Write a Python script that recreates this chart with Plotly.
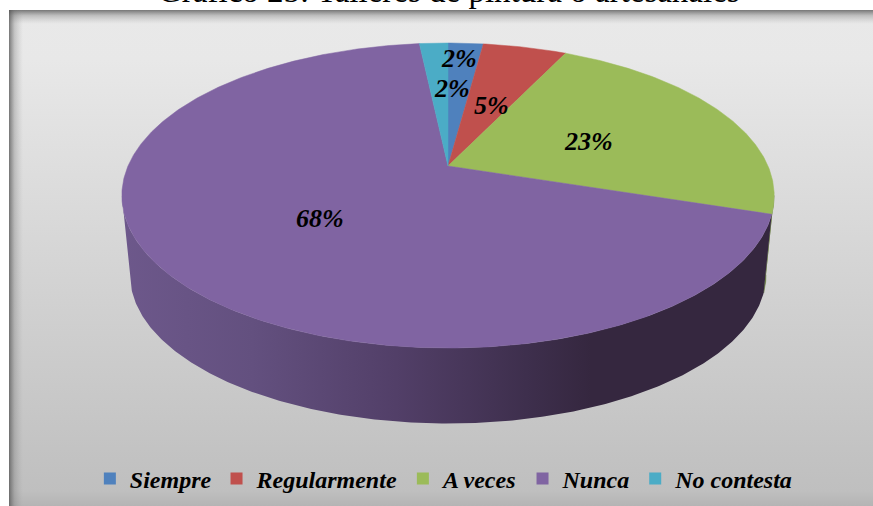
import numpy as np
import plotly.graph_objects as go

# --- data ---
categories = ["Siempre", "Regularmente", "A veces", "Nunca", "No contesta"]
shares = [2.1, 5.0, 22.9, 68.3, 1.7]
title_text = "Gráfico 25: Talleres de pintura o artesanales"

# --- style ---
colors = ["#4F81BD", "#C0504D", "#9BBB59", "#8064A2", "#4BACC6"]
W, H = 873, 506
SERIF = "Liberation Serif"
CX, CY = 448, 166      # apex of the pie on screen
RX, RY = 320, 146.8    # projected radii
PERSP = 0.1935         # perspective strength
DEPTH_DY, DEPTH_SCALE = 80, 0.975
# label centres (placement only, in pixels)
label_pos = [(459, 58), (491, 105), (588, 141), (320, 218), (452, 88)]


def project(phi_deg, scale=1.0, dy=0.0):
    """Tilted-disc projection; phi clockwise from the far point of the disc."""
    phi = np.radians(phi_deg)
    d = 1 + PERSP * np.cos(phi)
    return (CX + scale * RX * np.sin(phi) / d,
            CY + dy + scale * (-RY) * np.cos(phi) / d)


def arc(a, b, **kw):
    n = max(int(abs(b - a) * 2), 2)
    return project(np.linspace(a, b, n), **kw)


cum = np.concatenate([[0], np.cumsum(shares)]) * 360.0 / sum(shares)
FRONT_R, FRONT_L = 101.1, 258.9  # silhouette tangents of the disc

fig = go.Figure()


def poly(xs, ys, **kw):
    fig.add_trace(go.Scatter(x=list(xs), y=list(ys), mode="lines", fill="toself",
                             showlegend=False, hoverinfo="skip", **kw))


# chart-area background and bevel
X0, Y0 = 9, 10
poly([X0, W, W, X0], [Y0, Y0, H, H], line=dict(width=0, color="rgba(0,0,0,0)"),
     fillgradient=dict(type="vertical", start=Y0, stop=H,
                       colorscale=[[0, "#e9e9e9"], [0.1, "#e8e8e8"], [0.97, "#bfbfbf"], [1, "#b4b4b4"]]))
poly([X0, W, W, X0], [Y0, Y0, Y0 + 14, Y0 + 14], line=dict(width=0, color="rgba(0,0,0,0)"),
     fillgradient=dict(type="vertical", start=Y0, stop=Y0 + 14,
                       colorscale=[[0, "rgba(90,90,90,0.80)"], [0.4, "rgba(110,110,110,0.35)"], [1, "rgba(150,150,150,0)"]]))
poly([X0, X0 + 14, X0 + 14, X0], [Y0, Y0, H, H], line=dict(width=0, color="rgba(0,0,0,0)"),
     fillgradient=dict(type="horizontal", start=X0, stop=X0 + 14,
                       colorscale=[[0, "rgba(80,80,80,0.75)"], [0.4, "rgba(110,110,110,0.30)"], [1, "rgba(150,150,150,0)"]]))

# side wall: green sliver, then the purple wall with its left-to-right shade
wall_kw = dict(scale=DEPTH_SCALE, dy=DEPTH_DY)
gx, gy = arc(FRONT_R, cum[3])
gx2, gy2 = arc(cum[3], FRONT_R, **wall_kw)
poly(np.r_[gx, gx2], np.r_[gy, gy2], line=dict(width=0.5, color="#5f7436"), fillcolor="#5f7436")

tx, ty = arc(cum[3], FRONT_L)
bx, by = arc(FRONT_L, cum[3], **wall_kw)
poly(np.r_[tx, bx], np.r_[ty, by], line=dict(width=0, color="rgba(0,0,0,0)"),
     fillgradient=dict(type="horizontal", start=CX - 326, stop=CX + 326,
                       colorscale=[[0, "#6d588b"], [0.2, "#63507f"], [0.42, "#523f68"],
                                   [0.62, "#3e2f4d"], [0.72, "#35273f"], [1, "#35273f"]]))

# top face
for i, c in enumerate(colors):
    ax, ay = arc(cum[i], cum[i + 1])
    poly(np.r_[CX, ax, CX], np.r_[CY, ay, CY], line=dict(width=0.5, color=c), fillcolor=c)

# legend entries
for name, c in zip(categories, colors):
    fig.add_trace(go.Scatter(x=[None], y=[None], mode="markers", name=name,
                             marker=dict(symbol="square", size=12, color=c)))

# data labels
annotations = [dict(x=x, y=y, text=f"{round(v)}%", showarrow=False, xref="x", yref="y",
                    font=dict(family=SERIF, size=26, color="black", style="italic", weight="bold"))
               for v, (x, y) in zip(shares, label_pos)]
annotations.append(dict(x=449, y=11, yanchor="bottom", text=title_text, showarrow=False,
                        xref="x", yref="y", font=dict(family=SERIF, size=33, color="black")))

fig.update_layout(
    width=W, height=H, autosize=False,
    margin=dict(l=0, r=0, t=0, b=0),
    paper_bgcolor="white", plot_bgcolor="rgba(0,0,0,0)",
    xaxis=dict(range=[0, W], visible=False, fixedrange=True),
    yaxis=dict(range=[H, 0], visible=False, fixedrange=True),
    annotations=annotations,
    legend=dict(orientation="h", x=0.509, xanchor="center", y=0.009, yanchor="bottom",
                bgcolor="rgba(0,0,0,0)",
                font=dict(family=SERIF, size=24, color="black", style="italic", weight="bold"),
                itemsizing="constant", itemwidth=30),
)
fig.write_html("out.html", config={"displayModeBar": False},
               post_script="document.body.style.margin='0';document.body.style.overflow='hidden';")
